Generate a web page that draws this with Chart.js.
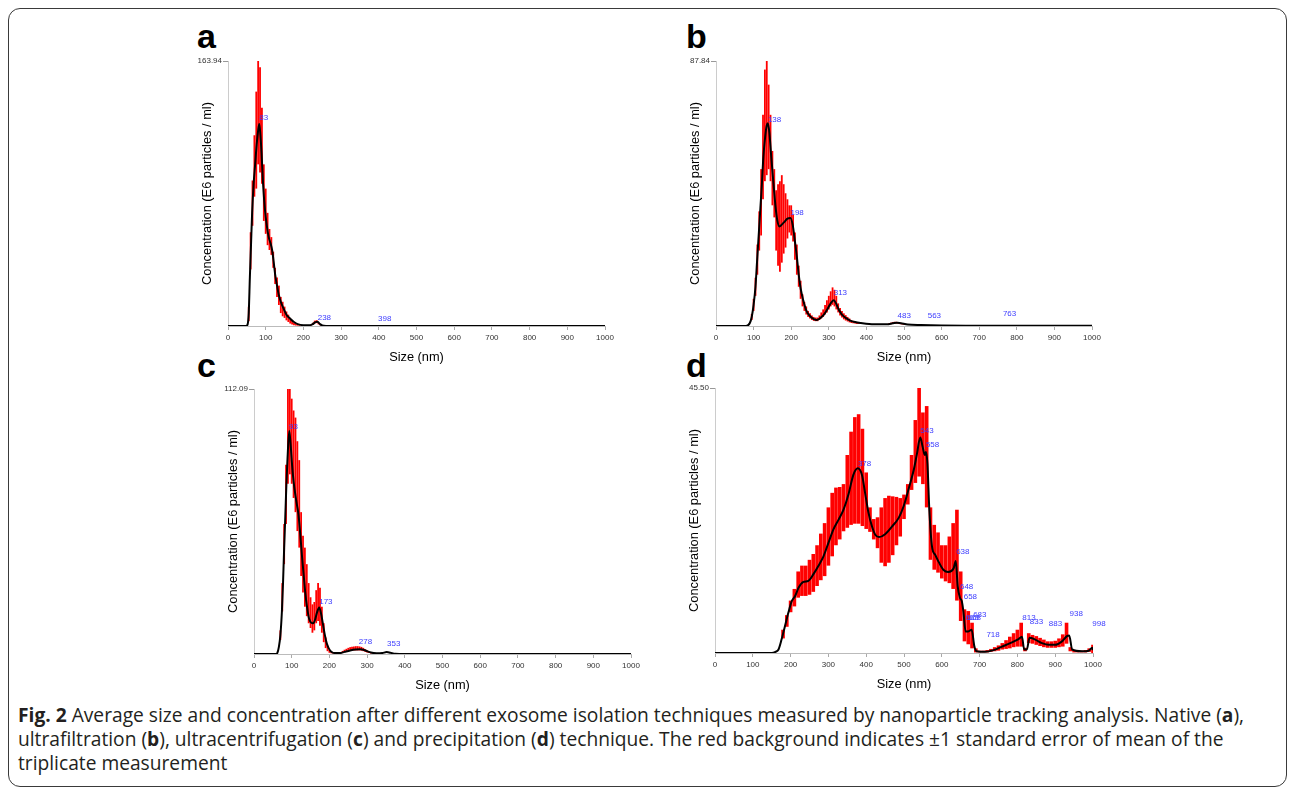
<!DOCTYPE html>
<html>
<head>
<meta charset="utf-8">
<script src="https://cdn.jsdelivr.net/npm/chart.js@4.4.0/dist/chart.umd.min.js"></script>
<style>
  body { margin: 0; background: #fff; width: 1295px; height: 792px; position: relative; overflow: hidden; font-family: "Liberation Sans", Arial, sans-serif; }
  .frame { position: absolute; left: 8px; top: 8px; width: 1277px; height: 777px; border: 1.5px solid #3a3a3a; border-radius: 12px; }
  canvas { position: absolute; }
  .letter { position: absolute; font: bold 34px "Liberation Sans", Arial, sans-serif; line-height: 34px; color: #000; }
  .caption { position: absolute; left: 18px; top: 703px; font-family: "Open Sans", sans-serif; font-size: 19.2px; line-height: 24px; color: #231f20; white-space: nowrap; }
</style>
</head>
<body>
<div class="frame"></div>
<div class="letter" style="left:197px;top:19px">a</div>
<div class="letter" style="left:686px;top:19px">b</div>
<div class="letter" style="left:197px;top:348px">c</div>
<div class="letter" style="left:686px;top:348px">d</div>

<canvas id="chartA" width="457" height="330" style="left:178px;top:36px"></canvas>
<canvas id="chartB" width="456" height="330" style="left:666px;top:36px"></canvas>
<canvas id="chartC" width="457" height="330" style="left:204px;top:364px"></canvas>
<canvas id="chartD" width="458" height="330" style="left:665px;top:363px"></canvas>

<div class="caption"><b>Fig. 2</b> Average size and concentration after different exosome isolation techniques measured by nanoparticle tracking analysis. Native (<b>a</b>),<br>ultrafiltration (<b>b</b>), ultracentrifugation (<b>c</b>) and precipitation (<b>d</b>) technique. The red background indicates ±1 standard error of mean of the<br>triplicate measurement</div>

<script>
// ---- panel a: native ----
const sizesA = [0, 48, 52, 55, 58, 61, 64, 68, 72, 76, 80, 83, 86, 89, 93, 98, 103, 108, 113, 117, 121, 125, 130, 135, 140, 147, 155, 165, 175, 185, 200, 215, 225, 232, 237, 243, 250, 260, 1000];
const meanA = [0, 0, 1, 8, 30, 50, 70, 88, 100, 112, 121, 125, 118, 107, 88, 72, 62, 55, 51, 47, 40, 32, 25, 19, 15, 11, 7, 4.5, 2.5, 1.2, 0.5, 0.4, 1.2, 2.4, 2.6, 1.4, 0.3, 0, 0];
const errSizesA = [55, 60, 65, 70, 75, 80, 85, 90, 95, 100, 105, 110, 115, 120, 125, 130, 135, 140, 145, 150, 155, 160, 165, 170, 175, 180, 185, 190, 195, 200, 205, 210, 215, 220, 225, 230, 235, 240, 245, 250];
const errLoA = [3, 35, 62, 80, 85, 100, 95, 88, 65, 57, 50, 47, 44, 36, 26, 18, 13, 8, 6, 5, 3.5, 2.5, 1.5, 1, 0.5, 0.3, 0.2, 0.1, 0.2, 0.2, 0.2, 0.2, 0.2, 0.3, 0.8, 1.5, 1.8, 1, 0.4, 0.1];
const errHiA = [12, 58, 90, 118, 145, 163.94, 160, 135, 100, 85, 70, 60, 55, 46, 36, 30, 25, 18, 15, 12, 9, 7, 5, 3.5, 2, 1.2, 0.8, 0.6, 0.5, 0.5, 0.5, 0.5, 0.5, 1, 2, 3.3, 3.6, 2.5, 1.2, 0.5];
const peakSizesA = [83, 238, 398];
const peakLevelsA = [129, 5.1, 4.3];

// ---- panel b: ultrafiltration ----
const sizesB = [0, 80, 90, 95, 100, 105, 109, 114, 118, 122, 126, 131, 135, 138, 142, 147, 153, 158, 163, 169, 175, 182, 190, 198, 204, 210, 215, 220, 225, 232, 240, 250, 260, 268, 277, 287, 296, 305, 313, 320, 327, 335, 345, 357, 370, 385, 420, 455, 470, 481, 492, 510, 545, 600, 700, 800, 1000];
const meanB = [0, 0, 1, 3, 7, 13, 21, 31, 39, 47, 56, 63, 66.5, 67.2, 64, 56, 47, 40, 35, 33, 33.6, 34.5, 35.6, 35.8, 33.5, 28, 23, 17, 12.5, 8.5, 5.2, 3.3, 2.3, 2, 2.6, 3.8, 5.5, 7.5, 8.5, 7.3, 5.3, 3.8, 2.7, 1.8, 1.3, 1, 0.6, 0.6, 0.9, 1.1, 0.9, 0.5, 0.3, 0.15, 0.1, 0.05, 0.05];
const errSizesB = [95, 100, 105, 110, 115, 120, 125, 130, 135, 140, 145, 150, 155, 160, 165, 170, 175, 180, 185, 190, 195, 200, 205, 210, 215, 220, 225, 230, 235, 240, 245, 250, 255, 260, 265, 270, 275, 280, 285, 290, 295, 300, 305, 310, 315, 320, 325, 330, 335, 340, 345, 350, 355, 360, 365, 370, 375, 380, 460, 465, 470, 475, 480, 485, 490, 495, 500];
const errLoB = [2, 5, 10, 17, 25, 30, 42, 48, 50, 52, 48, 40, 36, 25, 20, 18, 21, 24, 26, 29, 31, 30, 28, 22, 17, 13, 9, 6.5, 5, 3.8, 3, 2.5, 2, 1.7, 1.6, 1.6, 2, 2.5, 3, 3.8, 4.5, 5.5, 6.5, 7, 6.5, 5.5, 4.5, 3.5, 2.8, 2.2, 1.8, 1.5, 1.2, 1, 0.9, 0.8, 0.7, 0.7, 0.5, 0.6, 0.7, 0.7, 0.8, 0.7, 0.6, 0.5, 0.4];
const errHiB = [4, 9, 16, 27, 38, 52, 70, 85, 87.84, 80, 70, 58, 52, 45, 47, 48, 50, 47, 44, 42, 40, 40, 37, 31, 27, 20, 15, 10.5, 8, 6.5, 5, 4.2, 3.5, 3, 2.8, 2.8, 3.5, 4.5, 5.5, 7, 8.5, 10, 11.5, 12.8, 12, 10, 7.5, 6, 5, 4.2, 3.6, 3, 2.5, 2, 1.7, 1.5, 1.3, 1.2, 0.9, 1.1, 1.3, 1.4, 1.4, 1.3, 1.1, 0.9, 0.7];
const peakSizesB = [138, 198, 313, 483, 563, 763];
const peakLevelsB = [68.4, 37.5, 11, 3.3, 3.4, 4];

// ---- panel c: ultracentrifugation ----
const sizesC = [0, 58, 62, 66, 70, 74, 77, 80, 83, 86, 89, 93.5, 97, 101, 105, 110, 114, 118, 122, 127, 132, 136, 141, 146, 152, 157, 162, 167, 173, 178, 183, 188, 193, 198, 205, 215, 228, 240, 255, 270, 282, 292, 300, 310, 325, 340, 352, 362, 375, 400, 1000];
const meanC = [0, 0, 0.5, 3, 8, 18, 30, 45, 58, 72, 83, 94.3, 89, 80, 73, 67, 63, 59, 52, 42, 33, 26, 19.5, 15, 13.2, 13, 14.5, 17.5, 19.7, 17, 12.5, 8, 4.5, 2.5, 1, 0.4, 0.4, 0.9, 1.5, 1.9, 2, 1.7, 1.2, 0.6, 0.3, 0.4, 0.8, 0.5, 0.1, 0, 0];
const errSizesC = [70, 75, 80, 85, 90, 95, 100, 105, 110, 115, 120, 125, 130, 135, 140, 145, 150, 155, 160, 165, 170, 175, 180, 185, 190, 195, 200, 205, 210, 215, 220, 225, 230, 235, 240, 245, 250, 255, 260, 265, 270, 275, 280, 285, 290, 295, 300, 305, 310];
const errLoC = [6, 18, 38, 55, 72, 76, 72, 66, 60, 52, 45, 33, 26, 20, 16, 13, 11, 9, 10, 13, 14, 12, 9, 5, 2.5, 1.2, 0.5, 0.3, 0.2, 0.2, 0.2, 0.2, 0.2, 0.5, 0.7, 0.9, 1.1, 1.3, 1.4, 1.5, 1.5, 1.5, 1.5, 1.4, 1.2, 0.9, 0.6, 0.4, 0.2];
const errHiC = [10, 30, 55, 80, 112.09, 112.09, 108, 103, 100, 90, 82, 60, 50, 45, 38, 30, 24, 21, 22, 27, 30, 28, 20, 13, 7, 3.5, 1.8, 1, 0.6, 0.6, 0.6, 0.6, 0.6, 1.3, 1.8, 2.2, 2.6, 2.9, 3.1, 3.2, 3.3, 3.3, 3.2, 3, 2.6, 2, 1.5, 1, 0.6];
const peakSizesC = [93, 173, 278, 353];
const peakLevelsC = [96.3, 22.1, 5.1, 4.4];

// ---- panel d: precipitation ----
const sizesD = [0, 150, 160, 168, 176, 185, 194, 203, 212, 221, 234, 247, 260, 273, 287, 300, 313, 327, 340, 353, 366, 378, 389, 397, 406, 415, 424, 434, 450, 468, 486, 499, 512, 526, 534, 543, 549, 555, 558, 562, 567, 574, 583, 592, 604, 617, 631, 637, 642, 648, 653, 657, 663, 670, 679, 686, 692, 715, 737, 759, 781, 803, 812, 818, 825, 832, 847, 865, 883, 900, 918, 931, 937, 945, 971, 989, 998, 1000];
const meanD = [0, 0, 0.2, 0.6, 2.3, 4.6, 6.9, 8.9, 9.8, 11.2, 12.2, 12.4, 13.5, 14.9, 16.6, 18.9, 21.2, 22.9, 24.6, 27.2, 30.6, 31.7, 30.5, 27.5, 24.1, 21.8, 20.3, 19.9, 20.4, 21.7, 23.2, 25.2, 28.1, 31.5, 34.1, 37, 35.5, 34, 34.5, 32.5, 24.6, 18.3, 16.8, 15.6, 14.3, 13.9, 14.5, 15.8, 11.5, 9.5, 8.9, 7.2, 3.7, 3.7, 4, 1.2, 0.3, 0.2, 0.5, 1.1, 1.7, 2.4, 2.8, 0.6, 0.6, 2.6, 2.3, 1.7, 1.4, 1.4, 2, 2.9, 3, 0.6, 0.3, 0.4, 0.9, 0.5];
const errSizesD = [180, 190, 200, 210, 220, 230, 240, 250, 260, 270, 280, 290, 300, 310, 320, 330, 340, 350, 360, 370, 380, 390, 400, 410, 420, 430, 440, 450, 460, 470, 480, 490, 500, 510, 520, 530, 540, 550, 560, 570, 580, 590, 600, 610, 620, 630, 640, 650, 660, 670, 680, 690, 700, 710, 720, 730, 740, 750, 760, 770, 780, 790, 800, 810, 820, 830, 840, 850, 860, 870, 880, 890, 900, 910, 920, 930, 940, 950, 960, 970, 980, 990, 1000];
const errLoD = [2.5, 4.5, 7, 8, 9.5, 9.8, 9.8, 10, 10.5, 11.5, 12.5, 13.2, 15, 16.6, 18.5, 19.5, 20.9, 21.5, 22, 22.2, 22.2, 21.8, 21.3, 20.8, 19.5, 18, 15.5, 14.9, 15.5, 16.8, 18.5, 20, 23, 25.5, 28, 29.2, 30.3, 29, 25, 16, 14.3, 13.8, 12.8, 12.3, 12, 11, 9, 5.5, 2, 1.5, 0.8, 0.1, 0.1, 0.1, 0.1, 0.2, 0.3, 0.4, 0.6, 0.7, 0.8, 1, 1.1, 1.1, 0.3, 1.7, 1.6, 1.4, 1.2, 1, 0.9, 0.9, 0.9, 1, 1.1, 1.6, 0.3, 0.1, 0.1, 0.1, 0.1, 0.2, 0];
const errHiD = [4, 6.5, 9, 11, 14, 15, 15, 16, 17, 18.5, 20.5, 22.3, 25, 27.5, 28.4, 28.5, 29, 34, 38, 40.5, 41, 38.5, 31, 25, 23, 23.3, 25, 26.6, 27, 26.9, 26.8, 26.6, 27.2, 29, 34, 40, 45.5, 41.3, 42.4, 25, 22, 20.7, 18.5, 18.5, 20, 22.3, 24.6, 14, 7.5, 7.2, 5.2, 0.8, 0.4, 0.4, 0.5, 0.7, 1, 1.3, 1.7, 2.2, 2.8, 3.4, 4, 5.2, 0.9, 3.4, 3.1, 2.9, 2.6, 2.3, 2, 2, 2.1, 2.5, 3.2, 5.2, 1, 0.5, 0.4, 0.4, 0.5, 0.8, 1.4];
const peakSizesD = [378, 543, 558, 638, 648, 658, 663, 668, 683, 718, 813, 833, 883, 938, 998];
const peakLevelsD = [32.5, 38.2, 35.8, 17.4, 11.3, 9.6, 6, 6, 6.5, 3.1, 6, 5.3, 5, 6.8, 5];

const fontFamily = "'Liberation Sans', Arial, sans-serif";

// blue peak-size labels, drawn after the data
const peakLabels = {
  id: "peakLabels",
  afterDatasetsDraw(chart, args, opts) {
    const { ctx } = chart;
    const x = chart.scales.x;
    const y = chart.scales.y;
    ctx.save();
    ctx.font = "8px " + fontFamily;
    ctx.fillStyle = "#3d3dff";
    ctx.textAlign = "left";
    ctx.textBaseline = "middle";
    opts.sizes.forEach((s, i) => {
      ctx.fillText(String(s), x.getPixelForValue(s), y.getPixelForValue(opts.levels[i]));
    });
    ctx.restore();
  },
};

function drawPanel(id, sizes, means, errSizes, errLo, errHi, yMax, peakSizes, peakLevels) {
  const ctx = document.getElementById(id).getContext("2d");
  return new Chart(ctx, {
    type: "bar",
    data: {
      datasets: [
        {
          type: "line",
          data: sizes.map((s, i) => ({ x: s, y: means[i] })),
          borderColor: "#000",
          borderWidth: 2,
          pointRadius: 0,
          cubicInterpolationMode: "monotone",
          order: 0,
        },
        {
          type: "bar",
          data: errSizes.map((s, i) => ({ x: s, y: [errLo[i], errHi[i]] })),
          backgroundColor: "#ff0000",
          borderWidth: 0,
          barPercentage: 0.96,
          categoryPercentage: 1,
          order: 1,
        },
      ],
    },
    options: {
      responsive: false,
      animation: false,
      layout: { padding: { left: 0, top: 25, right: 30, bottom: 0 } },
      scales: {
        x: {
          type: "linear",
          min: 0,
          max: 1000,
          offset: false,
          ticks: { stepSize: 100, callback: (v) => String(v), color: "#333", font: { size: 8, family: fontFamily }, padding: 3, maxRotation: 0, autoSkip: false },
          grid: { drawOnChartArea: false, tickLength: 4, color: "#aaa", offset: false },
          border: { color: "#bbb" },
          title: { display: true, text: "Size (nm)", color: "#000", font: { size: 12.8, family: fontFamily }, padding: { top: 0, bottom: 1 } },
          afterFit: (s) => { s.height = 40; },
        },
        y: {
          min: 0,
          max: yMax,
          afterBuildTicks: (s) => { s.ticks = [{ value: yMax }]; },
          ticks: { callback: (v) => v.toFixed(2), color: "#333", font: { size: 8, family: fontFamily }, padding: 1 },
          grid: { drawOnChartArea: false, tickLength: 5, color: "#999" },
          border: { color: "#ccc" },
          title: { display: true, text: "Concentration (E6 particles / ml)", color: "#000", font: { size: 12.8, family: fontFamily }, padding: { top: 22, bottom: 0 } },
          afterFit: (s) => { s.width = 50; },
        },
      },
      plugins: {
        legend: { display: false },
        tooltip: { enabled: false },
        peakLabels: { sizes: peakSizes, levels: peakLevels },
      },
    },
    plugins: [peakLabels],
  });
}

drawPanel("chartA", sizesA, meanA, errSizesA, errLoA, errHiA, 163.94, peakSizesA, peakLevelsA);
drawPanel("chartB", sizesB, meanB, errSizesB, errLoB, errHiB, 87.84, peakSizesB, peakLevelsB);
drawPanel("chartC", sizesC, meanC, errSizesC, errLoC, errHiC, 112.09, peakSizesC, peakLevelsC);
drawPanel("chartD", sizesD, meanD, errSizesD, errLoD, errHiD, 45.5, peakSizesD, peakLevelsD);
</script>
</body>
</html>
